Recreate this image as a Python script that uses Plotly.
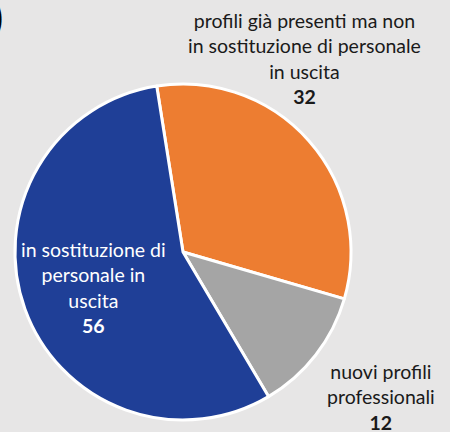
import plotly.graph_objects as go

categories = ["profili già presenti ma non<br>in sostituzione di personale<br>in uscita",
              "nuovi profili<br>professionali",
              "in sostituzione di<br>personale in<br>uscita"]
values = [32, 12, 56]
colors = ["#ed7d31", "#a5a5a5", "#1f3f97"]
text_colors = ["#1a1a1a", "#1a1a1a", "#ffffff"]

W, H = 450, 432
fig = go.Figure(go.Pie(
    labels=categories, values=values, sort=False, direction="clockwise",
    rotation=-9, textinfo="none", hoverinfo="label+value",
    marker=dict(colors=colors, line=dict(color="white", width=3)),
    domain=dict(x=[15 / W, 351 / W], y=[1 - 420 / H, 1 - 84 / H]),
    showlegend=False,
))

# label anchor positions in pixels (center x, center y)
label_pos = [(304, 58), (381, 397), (93, 287)]
for cat, val, col, (px, py) in zip(categories, values, text_colors, label_pos):
    fig.add_annotation(
        text=f"{cat}<br><b>{val}</b>", x=px / W, y=1 - py / H,
        xref="paper", yref="paper", xanchor="center", yanchor="middle",
        showarrow=False, align="center",
        font=dict(family="Lato, Open Sans, sans-serif", size=19.5, color=col),
    )

fig.add_annotation(text="<b>)</b>", x=5 / W, y=1 - 17 / H, xref="paper", yref="paper",
                   xanchor="right", yanchor="middle", showarrow=False,
                   font=dict(family="Lato, sans-serif", size=40, color="black"))

fig.update_layout(width=W, height=H, margin=dict(l=0, r=0, t=0, b=0),
                  paper_bgcolor="#e7e6e6", plot_bgcolor="#e7e6e6")
fig.write_html("out.html", config={"displayModeBar": False},
               post_script="document.body.style.margin='0';document.body.style.overflow='hidden';")
